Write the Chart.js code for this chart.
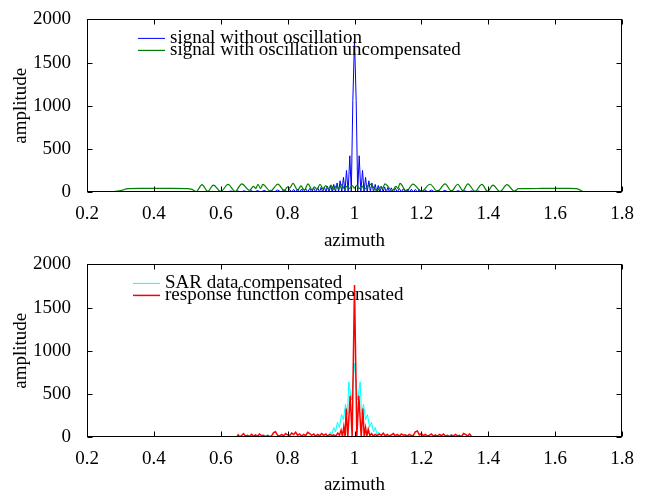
<!DOCTYPE html>
<html lang="en">
<head>
  <meta charset="UTF-8" />
  <title>Azimuth response</title>
  <script src="https://cdn.jsdelivr.net/npm/chart.js"></script>
  <style>
    body {
      margin: 0;
      background: #fff;
    }
    #wrap {
      position: relative;
      width: 646px;
      height: 496px;
    }
    canvas {
      position: absolute;
      left: 0;
      display: block;
    }
    #topChart { top: 0; }
    #bottomChart { top: 245px; }
  </style>
</head>
<body>
  <div id="wrap">
    <canvas id="topChart" width="646" height="252"></canvas>
    <canvas id="bottomChart" width="646" height="251"></canvas>
  </div>

  <script>
    // top panel: signal without oscillation (blue)
    const blueAzimuth = [
      0.27, 0.30, 0.35, 0.40, 0.45, 0.50, 0.52, 0.54, 0.56, 0.58, 0.60, 0.62,
      0.63, 0.64, 0.65, 0.66, 0.67, 0.68, 0.69, 0.70, 0.71, 0.72, 0.73, 0.74, 0.75, 0.76, 0.77, 0.78, 0.79, 0.80,
      0.806, 0.812, 0.818, 0.824, 0.830, 0.836, 0.842, 0.848, 0.854, 0.860, 0.866, 0.872, 0.878, 0.884, 0.890, 0.8955,
      0.900, 0.905, 0.9098, 0.9145, 0.919, 0.924, 0.929, 0.9335, 0.938, 0.943, 0.948, 0.9525, 0.957, 0.962,
      0.967, 0.9715, 0.976, 0.981, 0.986, 0.9905, 0.995, 1.000, 1.005, 1.0095, 1.014, 1.019, 1.024, 1.0285,
      1.033, 1.038, 1.043, 1.0475, 1.052, 1.057, 1.062, 1.0665, 1.071, 1.076, 1.081, 1.0855, 1.090, 1.095, 1.100, 1.1045,
      1.110, 1.116, 1.122, 1.128, 1.134, 1.140, 1.146, 1.152, 1.158, 1.164, 1.170, 1.176, 1.182, 1.188, 1.194, 1.20,
      1.21, 1.22, 1.23, 1.24, 1.25, 1.26, 1.27, 1.28, 1.29, 1.30, 1.31, 1.32, 1.33, 1.34, 1.35, 1.36, 1.37, 1.38,
      1.40, 1.42, 1.44, 1.46, 1.48, 1.50, 1.55, 1.60, 1.65, 1.70, 1.73
    ];
    const blueAmplitude = [
      0, 2, 3, 4, 5, 0, 8, 0, 9, 0, 10, 0,
      12, 0, 13, 0, 14, 0, 16, 0, 17, 0, 19, 0, 21, 0, 23, 0, 25, 0,
      28, 0, 30, 0, 32, 0, 35, 0, 38, 0, 41, 0, 44, 0, 48, 0,
      53, 0, 59, 0, 66, 0, 75, 0, 88, 0, 105, 0, 130, 0,
      170, 0, 250, 0, 420, 0, 1060, 1760, 1060, 0, 420, 0, 250, 0,
      170, 0, 130, 0, 105, 0, 88, 0, 75, 0, 66, 0, 59, 0, 53, 0,
      48, 0, 44, 0, 41, 0, 38, 0, 35, 0, 32, 0, 30, 0, 28, 0,
      25, 0, 23, 0, 21, 0, 19, 0, 17, 0, 16, 0, 14, 0, 13, 0, 12, 0,
      10, 0, 9, 0, 8, 0, 6, 5, 4, 2, 0
    ];

    // top panel: signal with oscillation uncompensated (green)
    const greenAzimuth = [
      0.27, 0.30, 0.323, 0.36, 0.40, 0.45, 0.50, 0.514, 0.527, 0.544, 0.561, 0.578, 0.600, 0.622, 0.643, 0.663,
      0.686, 0.698, 0.705, 0.711, 0.719, 0.726, 0.748, 0.771, 0.790, 0.800, 0.806, 0.816, 0.830, 0.840, 0.850,
      0.861, 0.873, 0.880, 0.888, 0.897, 0.906, 0.914, 0.922, 0.930, 0.938, 0.946, 0.954, 0.962, 0.970, 0.978,
      0.986, 0.993, 1.000, 1.007, 1.014, 1.022, 1.030, 1.046, 1.068, 1.078, 1.084, 1.091, 1.113, 1.124, 1.130,
      1.136, 1.155, 1.175, 1.200, 1.226, 1.248, 1.271, 1.290, 1.309, 1.324, 1.339, 1.360, 1.381, 1.398, 1.414,
      1.435, 1.456, 1.478, 1.490, 1.52, 1.56, 1.60, 1.64, 1.665, 1.683, 1.70, 1.73
    ];
    const greenAmplitude = [
      0, 15, 40, 42, 42, 41, 40, 30, 6, 85, 6, 80, 5, 88, 6, 95,
      20, 65, 40, 90, 40, 88, 10, 92, 15, 60, 45, 100, 20, 70, 20,
      95, 25, 60, 30, 90, 35, 75, 35, 80, 30, 72, 40, 85, 35, 68,
      40, 75, 45, 78, 38, 70, 32, 92, 15, 60, 40, 95, 15, 65, 40,
      100, 10, 92, 8, 90, 8, 95, 10, 90, 15, 95, 8, 88, 8, 80,
      6, 85, 10, 38, 40, 41, 42, 42, 40, 5, 0, 0
    ];

    // bottom panel: SAR data compensated (cyan)
    const cyanAzimuth = [
      0.27, 0.40, 0.55, 0.70, 0.85, 0.91, 0.922, 0.928, 0.932, 0.938, 0.943, 0.949, 0.955, 0.961, 0.967, 0.973,
      0.979, 0.983, 0.991, 1.000, 1.009, 1.017, 1.021, 1.027, 1.033, 1.039, 1.045, 1.051, 1.057, 1.062, 1.068,
      1.072, 1.078, 1.09, 1.15, 1.30, 1.45, 1.60, 1.73
    ];
    const cyanAmplitude = [
      0, 2, 4, 5, 8, 10, 15, 55, 25, 110, 60, 170, 110, 260, 200, 380,
      260, 640, 430, 855, 430, 640, 260, 380, 200, 260, 110, 170, 60, 110, 25,
      55, 12, 10, 8, 5, 4, 2, 0
    ];

    // bottom panel: response function compensated (red)
    const redAzimuth = [
      0.27, 0.648, 0.652, 0.656, 0.662, 0.668, 0.674, 0.680, 0.686, 0.692, 0.698, 0.704, 0.710, 0.716, 0.722,
      0.728, 0.734, 0.740, 0.746, 0.752, 0.758, 0.764, 0.770, 0.776, 0.782, 0.788, 0.794, 0.800, 0.806, 0.812,
      0.818, 0.824, 0.830, 0.836, 0.842, 0.848, 0.854, 0.860, 0.866, 0.872, 0.878, 0.884, 0.890, 0.896, 0.902,
      0.908, 0.914, 0.920, 0.926, 0.932, 0.938, 0.944, 0.950, 0.955, 0.960, 0.964, 0.968, 0.972, 0.975, 0.980,
      0.987, 0.993, 1.000, 1.007, 1.013, 1.020, 1.025, 1.029, 1.033, 1.037, 1.041, 1.046, 1.051, 1.056, 1.062,
      1.068, 1.074, 1.080, 1.086, 1.092, 1.098, 1.104, 1.110, 1.116, 1.122, 1.128, 1.134, 1.140, 1.146, 1.152,
      1.158, 1.164, 1.170, 1.176, 1.182, 1.188, 1.194, 1.200, 1.206, 1.212, 1.218, 1.224, 1.230, 1.236, 1.242,
      1.248, 1.254, 1.260, 1.266, 1.272, 1.278, 1.284, 1.290, 1.296, 1.302, 1.308, 1.314, 1.320, 1.326, 1.332,
      1.338, 1.344, 1.350, 1.356, 1.73
    ];
    const redAmplitude = [
      0, 0, 25, 5, 15, 40, 10, 20, 5, 30, 10, 25, 8, 35, 15,
      20, 5, 18, 6, 12, 50, 60, 20, 10, 30, 12, 40, 25, 15, 45,
      30, 55, 20, 35, 10, 30, 15, 55, 40, 20, 35, 10, 30, 15, 40,
      20, 35, 10, 30, 15, 25, 10, 45, 20, 80, 5, 120, 0, 330, 0,
      480, 0, 1760, 0, 480, 0, 330, 0, 110, 10, 90, 15, 40, 10, 30,
      15, 35, 20, 45, 15, 30, 10, 25, 40, 15, 30, 10, 35, 20, 25,
      10, 30, 15, 20, 60, 70, 25, 40, 15, 30, 10, 20, 35, 10, 25,
      8, 30, 15, 35, 10, 20, 5, 25, 10, 30, 12, 20, 5, 40, 30,
      10, 35, 5, 0, 0
    ];

    const xTicks = [0.2, 0.4, 0.6, 0.8, 1, 1.2, 1.4, 1.6, 1.8];
    const yTicks = [0, 500, 1000, 1500, 2000];

    const serif = '"Liberation Serif", "Times New Roman", serif';
    Chart.defaults.font.family = serif;
    Chart.defaults.font.size = 19;
    Chart.defaults.color = "#000";

    function toPoints(xs, ys) {
      return xs.map((x, i) => ({ x: x, y: ys[i] }));
    }

    // box around the plot, inward tick marks and the inline legend
    function makeFrame(legendX) {
      return {
        id: "frame",
        afterDraw(chart) {
          const c = chart.ctx;
          const a = chart.chartArea;
          const L = Math.round(a.left) + 0.5, R = Math.round(a.right) - 0.5;
          const T = Math.round(a.top) + 0.5, B = Math.round(a.bottom) - 0.5;
          c.save();
          c.strokeStyle = "#000";
          c.lineWidth = 1;
          c.strokeRect(L, T, R - L, B - T);
          c.beginPath();
          chart.scales.x.ticks.forEach(t => {
            const px = Math.round(chart.scales.x.getPixelForValue(t.value)) + 0.5;
            c.moveTo(px, B); c.lineTo(px, B - 5);
            c.moveTo(px, T); c.lineTo(px, T + 5);
          });
          chart.scales.y.ticks.forEach(t => {
            const py = Math.round(chart.scales.y.getPixelForValue(t.value)) + 0.5;
            c.moveTo(L, py); c.lineTo(L + 5, py);
            c.moveTo(R, py); c.lineTo(R - 5, py);
          });
          c.stroke();

          c.font = "19px " + serif;
          c.textBaseline = "middle";
          c.fillStyle = "#000";
          chart.data.datasets.forEach((ds, i) => {
            const y = a.top + 19 + i * 12;
            c.strokeStyle = ds.borderColor;
            c.lineWidth = ds.borderWidth;
            c.beginPath();
            c.moveTo(a.left + legendX, y);
            c.lineTo(a.left + legendX + 27, y);
            c.stroke();
            c.fillText(ds.label, a.left + legendX + 32, y);
          });
          c.restore();
        }
      };
    }

    function makeOptions(xHeight) {
      return {
        responsive: false,
        animation: false,
        layout: { padding: { top: 16, right: 24, left: 0, bottom: 0 } },
        plugins: { legend: { display: false }, tooltip: { enabled: false } },
        elements: { point: { radius: 0 } },
        scales: {
          x: {
            type: "linear",
            min: 0.2,
            max: 1.8,
            afterBuildTicks: s => { s.ticks = xTicks.map(v => ({ value: v })); },
            afterFit: s => { s.height = xHeight; },
            grid: { display: false },
            border: { display: false },
            ticks: { padding: 3, maxRotation: 0, autoSkip: false, callback: v => String(+v.toFixed(1)) },
            title: { display: true, text: "azimuth", padding: { top: 0, bottom: 0 } }
          },
          y: {
            min: 0,
            max: 2000,
            afterBuildTicks: s => { s.ticks = yTicks.map(v => ({ value: v })); },
            afterFit: s => { s.width = 87; },
            grid: { display: false },
            border: { display: false },
            ticks: { padding: 8, callback: v => String(v) },
            title: { display: true, text: "amplitude", padding: { top: 10, bottom: 0 } }
          }
        }
      };
    }

    const topCtx = document.getElementById("topChart").getContext("2d");
    const bottomCtx = document.getElementById("bottomChart").getContext("2d");

    new Chart(topCtx, {
      type: "line",
      data: {
        datasets: [
          {
            label: "signal without oscillation",
            data: toPoints(blueAzimuth, blueAmplitude),
            borderColor: "#0000ff",
            borderWidth: 1,
            tension: 0,
            order: 1
          },
          {
            label: "signal with oscillation uncompensated",
            data: toPoints(greenAzimuth, greenAmplitude),
            borderColor: "#008000",
            borderWidth: 1.2,
            cubicInterpolationMode: "monotone",
            order: 0
          }
        ]
      },
      options: makeOptions(60),
      plugins: [makeFrame(51)]
    });

    new Chart(bottomCtx, {
      type: "line",
      data: {
        datasets: [
          {
            label: "SAR data compensated",
            data: toPoints(cyanAzimuth, cyanAmplitude),
            borderColor: "#00ffff",
            borderWidth: 1,
            tension: 0,
            order: 1
          },
          {
            label: "response function compensated",
            data: toPoints(redAzimuth, redAmplitude),
            borderColor: "#ff0000",
            borderWidth: 1.5,
            tension: 0,
            order: 0
          }
        ]
      },
      options: makeOptions(59),
      plugins: [makeFrame(46)]
    });
  </script>
</body>
</html>
